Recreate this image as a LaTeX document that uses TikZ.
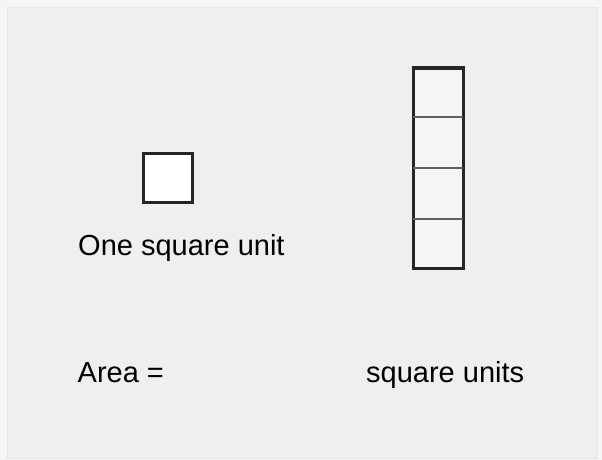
\documentclass[tikz,border=0pt]{standalone}
\usepackage{fontspec}
\setmainfont{Liberation Sans}
\usetikzlibrary{positioning, calc}

\definecolor{panelgray}{HTML}{EFEFEF}
\definecolor{edgegray}{HTML}{F5F5F5}
\definecolor{framegray}{HTML}{E6E6E6}
\definecolor{linedark}{HTML}{262626}
\definecolor{divgray}{HTML}{606060}

\tikzset{
	unitbox/.style = {draw=linedark, line width=3pt, inner sep=0pt},
	divline/.style = {draw=divgray, line width=1.8pt},
	txt/.style = {anchor=base west, inner sep=0pt, font=\fontsize{29}{34}\selectfont, text=black}
}

\begin{document}
\begin{tikzpicture}[
			x = 1pt,
			y = -1pt
			]
			
			% Define background
			\useasboundingbox (0,0) rectangle (602,460);
			\fill[edgegray] (0,0) rectangle (602,460);
			\filldraw[fill=panelgray, draw=framegray, line width=1pt] (7,8) rectangle (597,458);
			
			% Define shapes
			\node[unitbox, fill=white!98!panelgray, minimum size=49pt] (unit) at (168,177.5) {};
			\node[unitbox, fill=white!40!panelgray, minimum width=50pt, minimum height=200pt] (bar) at (438,168) {};
			
			% Define divisions
			\foreach \k/\nm in {1/a,2/b,3/c} {
				\coordinate (l\nm) at ($(bar.north west)!\k/4!(bar.south west)$);
				\coordinate (r\nm) at ($(bar.north east)!\k/4!(bar.south east)$);
				\draw[divline] ([xshift=1.5pt]l\nm) -- ([xshift=-1.5pt]r\nm);
			}
			
			% Define labels
			\node[txt] (unitlabel) at (78,255.7) {One square unit};
			\node[txt] (arealabel) at (77.5,382.3) {Area =};
			\node[txt] (unitslabel) at (366,382.3) {square units};
			
		\end{tikzpicture}
\end{document}
